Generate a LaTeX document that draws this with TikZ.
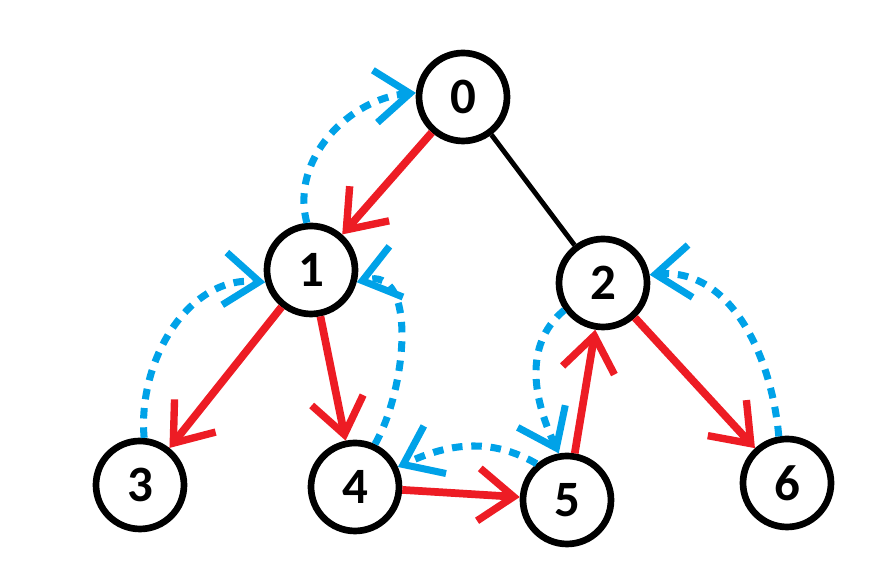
\documentclass[tikz,border=0pt]{standalone}
\usepackage{fontspec}
\setmainfont{Carlito}
\usetikzlibrary{arrows.meta}
\definecolor{paintred}{RGB}{237,28,36}
\definecolor{paintblue}{RGB}{0,162,232}
\tikzset{
  vertex/.style={
    circle,
    draw=black,
    line width=3.8pt,
    fill=white,
    minimum size=1.76cm,
    inner sep=0pt,
    font=\fontsize{29}{29}\selectfont\bfseries
  },
  tree/.style={
    line width=2.8pt,
    black
  },
  walk/.style={
    -{Straight Barb[length=7mm,width=10.5mm,line width=4.2pt]},
    line width=4.4pt,
    paintred
  },
  back/.style={
    -{Straight Barb[length=7mm,width=10.5mm,line width=4pt]},
    line width=4pt,
    dash pattern=on 6pt off 5pt,
    paintblue
  }
}
\begin{document}
\begin{tikzpicture}
\useasboundingbox (0,0) rectangle (17.72,11.76);
% vertices
\node[vertex] (n0) at (9.26,9.82) {0};
\node[vertex] (n1) at (6.22,6.36) {1};
\node[vertex] (n2) at (12.06,6.10) {2};
\node[vertex] (n3) at (2.80,2.06) {3};
\node[vertex] (n4) at (7.10,2.02) {4};
\node[vertex] (n5) at (11.34,1.76) {5};
\node[vertex] (n6) at (15.74,2.10) {6};
% tree edge
\draw[tree] (n0) -- (n2);
% forward walk
\draw[walk] (n0) -- (n1);
\draw[walk] (n1) -- (n3);
\draw[walk] (n1) -- (n4);
\draw[walk] (n4) -- (n5);
\draw[walk] (n5) -- (n2);
\draw[walk] (n2) -- (n6);
% backtracking
\draw[back] (n1.95) to[out=105,in=185] (n0.175);
\draw[back] (n3.85) to[out=95,in=175] (n1.195);
\draw[back] (n4.65) to[out=60,in=15] (n1.345);
\draw[back] (n5.130) to[out=150,in=25] (n4.25);
\draw[back] (n2.215) to[out=220,in=115] (n5.100);
\draw[back] (n6.100) to[out=95,in=5] (n2.10);
\end{tikzpicture}
\end{document}
